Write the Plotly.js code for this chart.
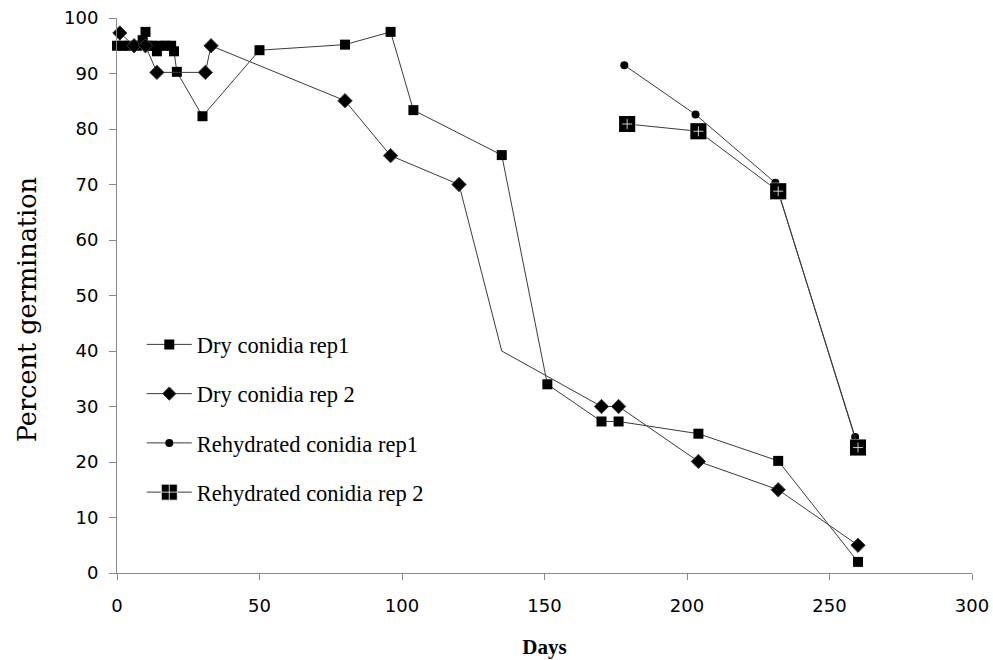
<!DOCTYPE html>
<html>
<head>
<meta charset="utf-8">
<script src="https://cdn.plot.ly/plotly-3.0.1.min.js"></script>
<style>html,body{margin:0;padding:0;background:#fff;}#chart{width:993px;height:660px;}</style>
</head>
<body>
<div id="chart"></div>
<script>
// ---- Data ----
var dryRep1Days = [0, 2, 4, 7, 9, 10, 11, 12, 14, 15, 17, 19, 20, 21, 30, 50, 80, 96, 104, 135, 151, 170, 176, 204, 232, 260];
var dryRep1Pct  = [95, 95, 95, 95, 96, 97.5, 95, 95, 94, 95, 95, 95, 94, 90.3, 82.3, 94.2, 95.2, 97.5, 83.4, 75.3, 34, 27.3, 27.3, 25.1, 20.2, 2];

var dryRep2Days = [1, 6, 10, 14, 31, 33, 80, 96, 120, 135, 170, 176, 204, 232, 260];
var dryRep2Pct  = [97.3, 95, 95, 90.2, 90.2, 95, 85.1, 75.2, 70, 40, 30, 30, 20.1, 15, 5];
var dryRep2NoMarkerDay = 135;   // vertex with no visible marker in the reference

var rehyRep1Days = [178, 203, 231, 259];
var rehyRep1Pct  = [91.5, 82.6, 70.3, 24.5];

var rehyRep2Days = [179, 204, 232, 260];
var rehyRep2Pct  = [80.9, 79.6, 68.8, 22.6];

var seriesNames = ["Dry conidia rep1", "Dry conidia rep 2", "Rehydrated conidia rep1", "Rehydrated conidia rep 2"];
var xTickVals = [0, 50, 100, 150, 200, 250, 300];
var yTickVals = [0, 10, 20, 30, 40, 50, 60, 70, 80, 90, 100];
var xTitle = "Days";
var yTitle = "Percent germination";

var lineStyle = {color: "#3a3a3a", width: 1};

var traces = [
  {
    x: dryRep1Days, y: dryRep1Pct, name: seriesNames[0], legendgroup: "a",
    type: "scatter", mode: "lines+markers", line: lineStyle,
    marker: {symbol: "square", size: 10, color: "#000", opacity: 1}, cliponaxis: false
  },
  {
    x: dryRep2Days, y: dryRep2Pct, name: seriesNames[1], legendgroup: "b",
    type: "scatter", mode: "lines+markers", line: lineStyle,
    marker: {symbol: "diamond", size: dryRep2Days.map(function(d){return d === dryRep2NoMarkerDay ? 0 : 11;}), color: "#000", opacity: 1},
    cliponaxis: false
  },
  {
    x: rehyRep1Days, y: rehyRep1Pct, name: seriesNames[2], legendgroup: "c",
    type: "scatter", mode: "lines+markers", line: lineStyle,
    marker: {symbol: "circle", size: 8, color: "#000", opacity: 1}, cliponaxis: false
  },
  {
    x: rehyRep2Days, y: rehyRep2Pct, name: seriesNames[3], legendgroup: "d",
    type: "scatter", mode: "lines+markers", line: lineStyle,
    marker: {symbol: "square-cross", size: 16, color: "#000", opacity: 1, line: {color: "#fff", width: 0.8}},
    cliponaxis: false
  },
  {
    // dark rim so the white cross stays inside the square, as in the reference
    x: rehyRep2Days, y: rehyRep2Pct, name: seriesNames[3], legendgroup: "d", showlegend: false,
    type: "scatter", mode: "markers", hoverinfo: "skip",
    marker: {symbol: "square-open", size: 13, color: "#000", opacity: 1, line: {color: "#000", width: 3}},
    cliponaxis: false
  }
];

var tickFont = {family: "DejaVu Sans, Verdana, sans-serif", size: 18, color: "#000"};
var serif = "Liberation Serif, Times New Roman, serif";

var layout = {
  width: 993, height: 660,
  margin: {l: 117, r: 21, t: 18, b: 87},
  paper_bgcolor: "#fff", plot_bgcolor: "#fff",
  showlegend: true,
  legend: {
    x: 0.029, y: 0.45, xanchor: "left", yanchor: "top",
    font: {family: serif, size: 22.5, color: "#000"},
    traceorder: "grouped", tracegroupgap: 17,
    bgcolor: "rgba(0,0,0,0)", itemwidth: 45
  },
  xaxis: {
    range: [0, 300], tickvals: xTickVals, ticks: "outside", ticklen: 6, tickcolor: "#888",
    showline: true, linecolor: "#888", linewidth: 1, showgrid: false, zeroline: false,
    tickfont: tickFont, ticklabelstandoff: 10,
    title: {text: "<b>" + xTitle + "</b>", font: {family: serif, size: 21, color: "#000"}, standoff: 24}
  },
  yaxis: {
    range: [0, 100], tickvals: yTickVals, ticks: "outside", ticklen: 7, tickcolor: "#888",
    showline: true, linecolor: "#888", linewidth: 1, showgrid: false, zeroline: false,
    tickfont: tickFont, ticklabelstandoff: 7
  },
  annotations: [{
    text: yTitle, xref: "paper", yref: "paper", x: -0.105, y: 0.474,
    xanchor: "center", yanchor: "middle", textangle: -90, showarrow: false,
    font: {family: "DejaVu Serif, serif", size: 25.5, color: "#000"}
  }]
};

Plotly.newPlot("chart", traces, layout, {displayModeBar: false, staticPlot: true});
</script>
</body>
</html>
